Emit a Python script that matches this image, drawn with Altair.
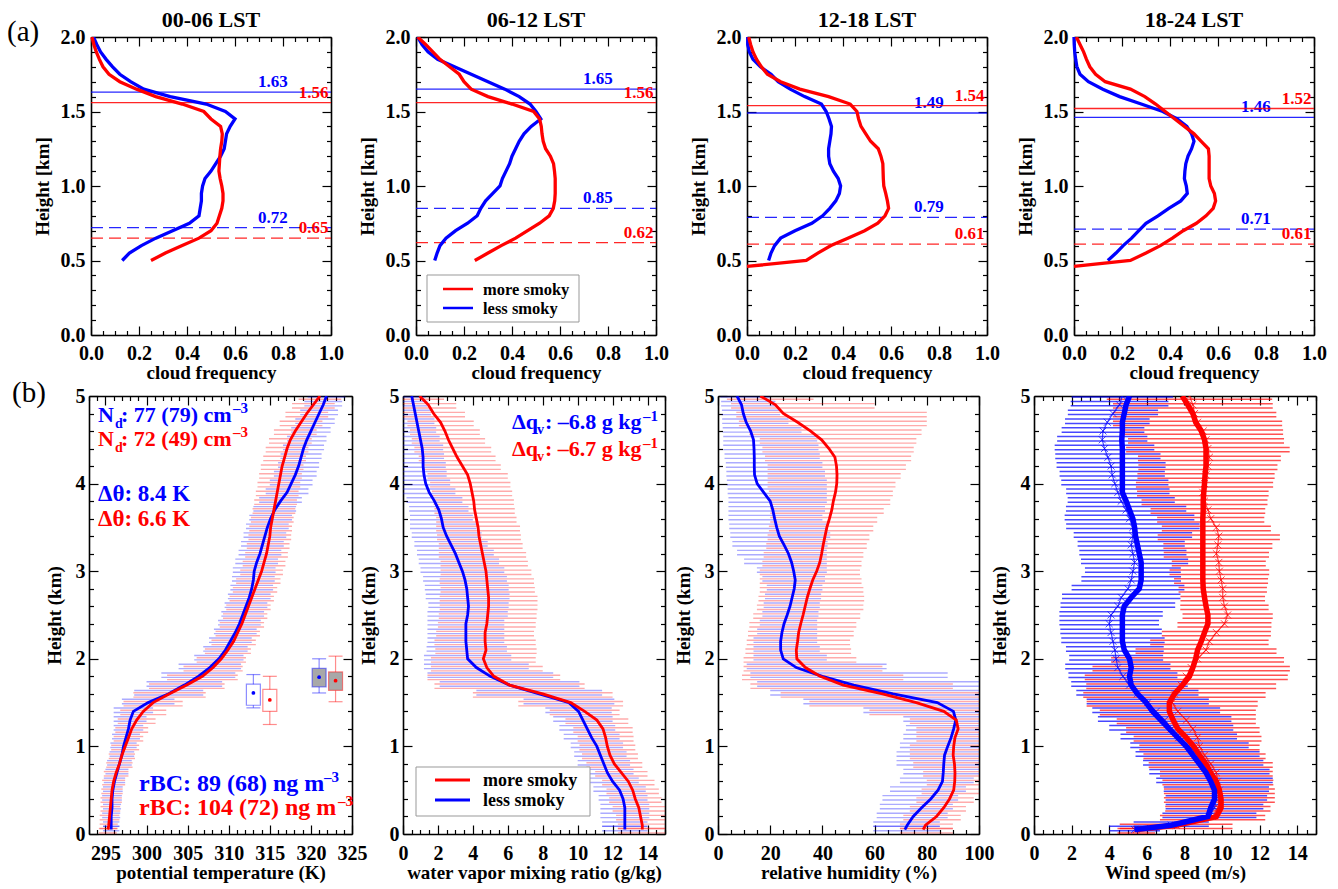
import altair as alt
import pandas as pd

SERIF = "Liberation Serif"
RED = "#ff0000"
BLUE = "#0000ff"
SERIES = ["more smoky", "less smoky"]
ONE = pd.DataFrame({"k": [0]})

# ---------------- (a) cloud-frequency profiles ----------------
LST = ["00-06 LST", "06-12 LST", "12-18 LST", "18-24 LST"]
CF_XDOM = [0.0, 1.0]
CF_YDOM = [0.0, 2.0]
CF_H = [0.50, 0.55, 0.60, 0.65, 0.70, 0.75, 0.80, 0.85, 0.90, 0.95, 1.00,
        1.05, 1.10, 1.15, 1.20, 1.25, 1.30, 1.35, 1.40, 1.45, 1.50,
        1.55, 1.60, 1.65, 1.70, 1.75, 1.80, 1.85, 1.90, 1.95, 2.00]
CF_FOOT_H = 0.46
CF_MORE = [
    [0.25, 0.31, 0.38, 0.45, 0.50, 0.525, 0.535, 0.545, 0.55, 0.55, 0.545,
     0.538, 0.533, 0.535, 0.537, 0.54, 0.545, 0.547, 0.54, 0.50, 0.47,
     0.38, 0.27, 0.19, 0.12, 0.075, 0.05, 0.035, 0.022, 0.012, 0.004],
    [0.245, 0.30, 0.355, 0.415, 0.465, 0.515, 0.555, 0.572, 0.578, 0.58, 0.58,
     0.58, 0.577, 0.573, 0.56, 0.54, 0.53, 0.525, 0.522, 0.515, 0.49,
     0.40, 0.30, 0.23, 0.20, 0.18, 0.14, 0.10, 0.07, 0.04, 0.007],
    [0.0,
     0.247, 0.295, 0.35, 0.42, 0.49, 0.545, 0.575, 0.59, 0.585, 0.578, 0.57,
     0.568, 0.567, 0.566, 0.558, 0.547, 0.515, 0.495, 0.475, 0.465, 0.458,
     0.43, 0.34, 0.22, 0.14, 0.085, 0.06, 0.04, 0.025, 0.015, 0.007],
    [0.0,
     0.235, 0.30, 0.36, 0.41, 0.455, 0.51, 0.55, 0.58, 0.59, 0.585, 0.57,
     0.563, 0.563, 0.563, 0.563, 0.56, 0.53, 0.50, 0.46, 0.42, 0.38,
     0.34, 0.295, 0.235, 0.13, 0.09, 0.066, 0.052, 0.04, 0.025, 0.01],
]
CF_LESS = [
    [0.13, 0.16, 0.21, 0.27, 0.34, 0.41, 0.45, 0.455, 0.46, 0.46, 0.465,
     0.475, 0.50, 0.52, 0.54, 0.555, 0.56, 0.565, 0.58, 0.60, 0.56,
     0.48, 0.33, 0.22, 0.165, 0.12, 0.09, 0.063, 0.04, 0.024, 0.01],
    [0.078, 0.088, 0.10, 0.125, 0.165, 0.215, 0.255, 0.27, 0.29, 0.32, 0.35,
     0.36, 0.375, 0.39, 0.40, 0.415, 0.43, 0.45, 0.48, 0.52, 0.50,
     0.475, 0.43, 0.37, 0.30, 0.23, 0.16, 0.09, 0.05, 0.025, 0.007],
    [0.09, 0.10, 0.115, 0.14, 0.20, 0.27, 0.315, 0.345, 0.37, 0.385, 0.39,
     0.38, 0.36, 0.345, 0.34, 0.34, 0.345, 0.35, 0.352, 0.342, 0.33,
     0.31, 0.24, 0.18, 0.13, 0.10, 0.056, 0.025, 0.01, 0.003, 0.003],
    [0.141, 0.175, 0.205, 0.24, 0.27, 0.30, 0.35, 0.395, 0.445, 0.472, 0.468,
     0.46, 0.462, 0.466, 0.475, 0.49, 0.50, 0.49, 0.47, 0.43, 0.37,
     0.28, 0.19, 0.12, 0.06, 0.025, 0.012, 0.007, 0.003, 0.001, 0.0],
]
TOP_MORE = [1.56, 1.56, 1.54, 1.52]
TOP_LESS = [1.63, 1.65, 1.49, 1.46]
BASE_MORE = [0.65, 0.62, 0.61, 0.61]
BASE_LESS = [0.72, 0.85, 0.79, 0.71]

# ---------------- (b) vertical profiles ----------------
BH = [0.05, 0.1, 0.2, 0.3, 0.4, 0.5, 0.6, 0.7, 0.8, 0.9,
      1.0, 1.1, 1.2, 1.3, 1.4, 1.5, 1.6, 1.7, 1.8, 1.9,
      2.0, 2.1, 2.2, 2.3, 2.4, 2.5, 2.6, 2.7, 2.8, 2.9,
      3.0, 3.1, 3.2, 3.3, 3.4, 3.5, 3.6, 3.7, 3.8, 3.9,
      4.0, 4.1, 4.2, 4.3, 4.4, 4.5, 4.6, 4.7, 4.8, 4.9,
      5.0]
BOT_YDOM = [0.0, 5.0]

TH_XDOM = [293, 325]
TH_LESS = [295.7, 295.7, 295.7, 295.8, 295.8, 295.9, 296.1, 296.4, 296.7, 297.0,
           297.2, 297.5, 297.8, 298.0, 298.4, 300.2, 302.7, 304.6, 306.3, 307.7,
           308.8, 309.6, 310.2, 310.8, 311.3, 311.7, 312.1, 312.5, 312.8, 313.0,
           313.1, 313.4, 313.8, 314.1, 314.4, 314.7, 315.1, 315.6, 316.3, 317.1,
           317.6, 318.1, 318.5, 318.8, 319.1, 319.5, 320.0, 320.5, 321.0, 321.5,
           321.9]
TH_MORE = [295.3, 295.4, 295.5, 295.6, 295.7, 295.8, 296.0, 296.3, 296.7, 297.0,
           297.4, 297.8, 298.2, 298.8, 299.6, 300.8, 302.8, 304.9, 306.8, 308.1,
           309.1, 309.9, 310.6, 311.1, 311.6, 312.0, 312.4, 312.8, 313.2, 313.6,
           314.0, 314.3, 314.6, 314.8, 315.0, 315.1, 315.3, 315.5, 315.7, 315.9,
           316.1, 316.3, 316.5, 316.8, 317.1, 317.5, 318.1, 318.8, 319.5, 320.3,
           321.1]
TH_SD_LESS = [1.0, 1.0, 1.1, 1.1, 1.2, 1.2, 1.3, 1.4, 1.5, 1.5,
              1.6, 1.7, 1.8, 2.0, 2.4, 3.2, 4.2, 4.6, 4.5, 3.8,
              3.0, 2.7, 2.6, 2.6, 2.6, 2.6, 2.6, 2.6, 2.6, 2.6,
              2.6, 2.6, 2.6, 2.6, 2.6, 2.6, 2.6, 2.6, 2.6, 2.6,
              2.6, 2.6, 2.5, 2.5, 2.5, 2.4, 2.4, 2.4, 2.3, 2.3,
              2.3]
TH_SD_MORE = [1.1, 1.1, 1.2, 1.2, 1.3, 1.3, 1.4, 1.5, 1.6, 1.6,
              1.7, 1.8, 2.0, 2.3, 2.8, 3.6, 4.4, 4.6, 4.3, 3.6,
              3.0, 2.8, 2.7, 2.7, 2.7, 2.7, 2.7, 2.7, 2.7, 2.7,
              2.6, 2.6, 2.6, 2.6, 2.6, 2.6, 2.6, 2.6, 2.6, 2.6,
              2.6, 2.6, 2.6, 2.6, 2.6, 2.6, 2.6, 2.6, 2.6, 2.6,
              2.6]

QV_XDOM = [0, 15]
QV_LESS = [12.7, 12.7, 12.7, 12.7, 12.6, 12.4, 12.0, 11.7, 11.5, 11.3,
           11.1, 10.8, 10.55, 10.3, 10.05, 9.5, 7.8, 6.1, 5.0, 4.2,
           3.7, 3.65, 3.6, 3.6, 3.6, 3.7, 3.75, 3.7, 3.65, 3.55,
           3.4, 3.2, 3.0, 2.75, 2.5, 2.3, 2.2, 2.05, 1.8, 1.5,
           1.3, 1.2, 1.15, 1.15, 1.1, 1.0, 0.9, 0.8, 0.7, 0.6,
           0.5]
QV_MORE = [13.7, 13.7, 13.6, 13.5, 13.3, 13.15, 12.9, 12.5, 12.1, 11.85,
           11.7, 11.6, 11.45, 11.1, 10.4, 9.6, 8.0, 6.1, 5.2, 4.8,
           4.6, 4.75, 4.7, 4.7, 4.8, 4.85, 4.9, 4.9, 4.85, 4.8,
           4.75, 4.65, 4.55, 4.45, 4.35, 4.3, 4.2, 4.1, 4.05, 3.95,
           3.85, 3.7, 3.4, 3.1, 2.85, 2.6, 2.4, 2.15, 1.75, 1.45,
           0.95]
QV_SD_LESS = [1.3, 1.3, 1.4, 1.4, 1.4, 1.5, 1.5, 1.5, 1.5, 1.5,
              1.5, 1.6, 1.6, 1.7, 1.9, 2.6, 3.6, 4.0, 3.6, 3.0,
              2.5, 2.3, 2.2, 2.2, 2.2, 2.3, 2.3, 2.4, 2.4, 2.4,
              2.4, 2.3, 2.2, 2.1, 2.0, 1.9, 1.8, 1.7, 1.6, 1.5,
              1.4, 1.3, 1.3, 1.2, 1.2, 1.1, 1.0, 1.0, 0.9, 0.8,
              0.8]
QV_SD_MORE = [1.4, 1.4, 1.4, 1.5, 1.5, 1.5, 1.5, 1.5, 1.6, 1.6,
              1.6, 1.6, 1.7, 1.8, 2.0, 3.0, 4.0, 4.3, 3.8, 3.2,
              3.0, 2.9, 2.9, 2.8, 2.8, 2.8, 2.8, 2.8, 2.7, 2.7,
              2.6, 2.5, 2.5, 2.4, 2.4, 2.4, 2.3, 2.3, 2.3, 2.3,
              2.3, 2.3, 2.2, 2.2, 2.2, 2.1, 2.0, 1.9, 1.8, 1.6,
              1.4]

RH_XDOM = [0, 100]
RH_LESS = [71.6, 72.5, 74.8, 78.0, 81.5, 84.3, 86.0, 86.3, 86.5, 86.8,
           88.0, 89.3, 90.3, 91.1, 90.2, 84.0, 67.1, 52.0, 40.0, 30.0,
           25.0, 24.0, 24.0, 24.5, 25.3, 26.5, 27.6, 28.4, 29.2, 29.6,
           29.0, 28.2, 27.0, 25.3, 23.5, 22.5, 21.7, 21.0, 20.0, 17.5,
           15.0, 14.0, 13.9, 13.9, 13.8, 13.6, 12.5, 10.8, 9.7, 9.0,
           7.3]
RH_MORE = [78.6, 79.5, 83.7, 86.5, 88.7, 90.3, 90.7, 90.8, 90.6, 90.1,
           90.3, 90.8, 92.0, 91.3, 86.5, 76.0, 63.0, 48.0, 39.1, 33.5,
           30.2, 30.0, 30.5, 30.9, 31.7, 32.6, 33.4, 34.2, 35.2, 36.3,
           37.8, 39.0, 39.7, 40.3, 41.0, 41.7, 42.7, 43.6, 44.2, 45.0,
           45.5, 45.6, 45.4, 44.8, 42.5, 39.7, 35.5, 30.5, 25.0, 22.0,
           16.2]
RH_LO_LESS = [59.5, 59.5, 60.8, 62.0, 63.0, 65.9, 69.7, 71.0, 68.4, 68.4,
              69.7, 71.0, 72.0, 71.0, 55.7, 32.7, 20.0, 15.0, 12.4, 11.0,
              13.6, 13.6, 13.6, 15.0, 16.0, 17.0, 17.5, 18.0, 18.7, 17.0,
              14.9, 10.0, 7.3, 5.5, 4.7, 4.3, 4.0, 4.0, 4.0, 3.7,
              3.4, 3.2, 3.0, 2.5, 2.0, 2.0, 1.8, 1.6, 1.5, 1.2,
              0.9]
RH_HI_LESS = [85.0, 85.0, 88.0, 90.0, 92.0, 95.0, 98.0, 100.0, 100.0, 100.0,
              100.0, 100.0, 100.0, 100.0, 100.0, 100.0, 100.0, 100.0, 88.0, 64.6,
              41.7, 39.0, 38.0, 38.0, 38.0, 38.5, 39.0, 39.5, 40.0, 41.0,
              41.7, 41.7, 41.7, 42.0, 43.0, 42.0, 40.0, 41.0, 41.7, 41.7,
              41.7, 41.0, 40.0, 39.0, 38.5, 38.0, 32.0, 27.0, 23.8, 22.0,
              20.0]
RH_LO_MORE = [69.7, 69.7, 71.0, 73.5, 76.0, 78.0, 80.0, 78.6, 74.8, 73.5,
              73.5, 76.0, 76.0, 73.5, 58.0, 35.0, 24.0, 12.4, 9.2, 9.8,
              9.8, 10.5, 11.0, 11.5, 12.0, 13.5, 14.9, 15.5, 16.0, 16.0,
              16.0, 17.0, 17.5, 18.5, 19.0, 19.5, 20.0, 20.0, 20.0, 19.5,
              19.0, 19.0, 19.0, 18.0, 17.0, 16.0, 12.0, 8.0, 7.0, 5.0,
              3.4]
RH_HI_MORE = [90.0, 90.0, 93.0, 95.0, 98.0, 100.0, 100.0, 100.0, 100.0, 100.0,
              100.0, 100.0, 100.0, 100.0, 100.0, 100.0, 100.0, 90.0, 71.0, 63.0,
              53.0, 51.0, 50.6, 52.0, 53.0, 54.5, 55.7, 56.0, 55.7, 55.0,
              54.4, 55.0, 55.7, 57.0, 58.0, 59.5, 61.0, 63.5, 66.0, 67.0,
              68.0, 70.0, 72.0, 74.0, 75.0, 76.0, 78.0, 80.0, 80.0, 60.0,
              36.6]

WS_XDOM = [0, 15]
WS_LESS = [5.35, 7.3, 9.25, 9.4, 9.6, 9.6, 9.4, 9.15, 8.8, 8.45,
           8.1, 7.65, 7.2, 6.75, 6.3, 5.97, 5.5, 5.17, 5.08, 5.17,
           5.08, 4.8, 4.7, 4.7, 4.7, 4.7, 4.8, 5.17, 5.6, 5.7,
           5.7, 5.7, 5.6, 5.5, 5.4, 5.35, 5.26, 5.08, 4.9, 4.7,
           4.7, 4.7, 4.7, 4.7, 4.7, 4.67, 4.7, 4.7, 4.8, 4.9,
           5.08]
WS_MEAN_LESS = [5.35, 7.3, 9.33, 9.6, 9.7, 9.7, 9.6, 9.33, 9.0, 8.7,
                8.27, 7.7, 7.3, 6.95, 6.5, 6.05, 5.5, 5.08, 4.73, 4.46,
                4.37, 4.3, 4.2, 4.1, 4.0, 4.1, 4.46, 4.64, 5.0, 5.17,
                5.26, 5.35, 5.26, 5.17, 5.26, 5.26, 5.08, 4.9, 4.64, 4.46,
                4.3, 4.16, 4.1, 3.93, 3.75, 3.63, 3.67, 3.9, 4.2, 4.55,
                4.7]
WS_SD_LESS = [1.35, 2.0, 2.5, 2.6, 2.7, 2.8, 3.1, 3.2, 3.2, 3.3,
              3.15, 3.1, 3.3, 3.55, 3.4, 3.25, 3.25, 3.1, 2.9, 2.8,
              2.5, 2.6, 2.75, 2.7, 2.65, 2.75, 3.05, 3.15, 3.0, 2.65,
              2.55, 2.85, 2.85, 2.85, 3.15, 3.55, 3.45, 3.2, 2.85, 2.75,
              2.85, 2.8, 2.9, 2.8, 2.65, 2.4, 2.2, 2.25, 2.4, 2.6,
              2.7]
WS_MORE = [5.44, 7.56, 9.7, 9.95, 9.95, 9.86, 9.7, 9.4, 9.15, 8.8,
           8.5, 8.1, 7.65, 7.4, 7.2, 7.2, 7.47, 7.9, 8.27, 8.45,
           8.6, 8.7, 8.9, 9.07, 9.25, 9.25, 9.15, 9.07, 9.0, 8.98,
           8.98, 8.98, 8.98, 8.98, 8.98, 8.98, 8.98, 9.0, 9.0, 9.03,
           9.07, 9.1, 9.15, 9.15, 9.15, 9.07, 8.9, 8.6, 8.45, 8.18,
           7.88]
WS_MEAN_MORE = [5.44, 7.56, 9.5, 9.78, 9.86, 9.86, 9.78, 9.7, 9.4, 9.07,
                8.8, 8.7, 8.45, 8.1, 7.65, 7.35, 7.47, 7.83, 8.1, 8.36,
                8.7, 9.15, 9.33, 9.7, 10.13, 10.3, 10.13, 10.04, 10.04, 9.95,
                9.86, 9.83, 9.7, 9.78, 9.83, 9.7, 9.4, 9.25, 9.07, 8.98,
                9.07, 9.15, 9.25, 9.33, 9.25, 9.15, 9.0, 8.7, 8.54, 8.45,
                8.27]
WS_SD_MORE = [1.0, 3.0, 2.8, 2.8, 2.95, 2.95, 2.95, 3.0, 3.3, 3.25,
              3.2, 3.4, 3.55, 3.7, 4.15, 4.55, 4.85, 5.05, 5.4, 5.25,
              4.6, 3.75, 3.15, 2.9, 2.5, 2.4, 2.35, 2.25, 2.35, 2.5,
              2.65, 2.5, 2.8, 2.9, 3.25, 2.9, 2.85, 3.05, 3.35, 3.5,
              3.65, 3.65, 3.7, 3.8, 4.35, 4.15, 4.25, 4.5, 4.35, 4.25,
              4.4]

# box plots in the potential-temperature panel
BOX_X = [313, 315, 321, 323]
BOX_SER = ["less smoky", "more smoky", "less smoky", "more smoky"]
BOX_LO = [1.44, 1.25, 1.61, 1.51]
BOX_Q1 = [1.47, 1.40, 1.68, 1.64]
BOX_Q3 = [1.71, 1.65, 1.89, 1.85]
BOX_HI = [1.82, 1.80, 2.00, 2.03]
BOX_MEAN = [1.61, 1.53, 1.79, 1.75]
BOX_FILLED = [False, False, True, True]

for arr in [TH_LESS, TH_MORE, TH_SD_LESS, TH_SD_MORE, QV_LESS, QV_MORE, QV_SD_LESS, QV_SD_MORE,
            RH_LESS, RH_MORE, RH_LO_LESS, RH_HI_LESS, RH_LO_MORE, RH_HI_MORE,
            WS_LESS, WS_MEAN_LESS, WS_SD_LESS, WS_MORE, WS_MEAN_MORE, WS_SD_MORE]:
    assert len(arr) == len(BH), len(arr)

# ---------------- layout (grid cells; plot placed inside each cell) ----------------
CELL_W = [304, 305, 306, 282]
COL_GAP = 10
ROW_GAP = 61
TOP_OX = [2, 13, 29, 40]
TOP_W = 240
TOP_H = 298
BOT_W = [263, 262, 261, 282]
BOT_H = 438
BOX_HALF = 0.85
MAJ_TICK = 9
MIN_TICK = 4.5


def tick_vals(lo, hi, step):
    n = int(round((hi - lo) / step))
    return [round(lo + step * k, 6) for k in range(n + 1)]


def split_ticks(lo, hi, minor, major):
    allv = tick_vals(lo, hi, minor)
    maj = [v for v in allv if abs(v / major - round(v / major)) < 1e-6]
    mnr = [v for v in allv if v not in maj]
    return maj, mnr


def axis_main_x(title, values, fmt, lab_pad, title_y):
    return alt.Axis(orient="bottom", title=title, values=values, format=fmt,
                    ticks=False, tickSize=0, grid=False, domain=True,
                    domainColor="black", domainWidth=1.6,
                    labelFont=SERIF, labelFontSize=20, labelFontWeight="bold",
                    labelColor="black", labelBaseline="alphabetic",
                    labelPadding=lab_pad, labelFlush=False, labelOverlap=False,
                    titleFont=SERIF, titleFontSize=19, titleFontWeight="bold",
                    titleColor="black", titleBaseline="alphabetic", titleY=title_y)


def axis_main_y(title, values, fmt, lab_pad, title_x, H, ox):
    return alt.Axis(orient="left", offset=-ox, title=title, values=values, format=fmt,
                    ticks=False, tickSize=0, grid=False, domain=True,
                    domainColor="black", domainWidth=1.6,
                    labelFont=SERIF, labelFontSize=20, labelFontWeight="bold",
                    labelColor="black", labelBaseline="middle",
                    labelPadding=lab_pad, labelFlush=False, labelOverlap=False,
                    titleFont=SERIF, titleFontSize=19, titleFontWeight="bold",
                    titleColor="black", titleAngle=270, titleBaseline="alphabetic",
                    titleAlign="center", titleX=title_x, titleY=H / 2)


def axis_ticks(orient, offset, values, size, domain):
    kw = dict(orient=orient, offset=offset, values=values, labels=False, grid=False,
              title=None, ticks=True, tickColor="black", tickWidth=1.2,
              tickSize=size, domain=domain)
    if domain:
        kw.update(domainColor="black", domainWidth=1.6)
    return alt.Axis(**kw)


def frame(df, xf, yf, xs, ys, CW, OX, W, H, xlim, xminor, xmajor, ylim, yminor, ymajor):
    xmaj, xmin = split_ticks(xlim[0], xlim[1], xminor, xmajor)
    ymaj, ymin = split_ticks(ylim[0], ylim[1], yminor, ymajor)
    ghost = alt.Chart(df).mark_point(opacity=0, size=1)
    out = []
    for k, (xv, yv, size) in enumerate(((xmaj, ymaj, MAJ_TICK), (xmin, ymin, MIN_TICK))):
        dom = (k == 0)
        # inward ticks on the bottom edge and on the left edge
        out.append(ghost.encode(
            x=alt.X(f"{xf}:Q", scale=xs, axis=axis_ticks("top", -H, xv, size, False)),
            y=alt.Y(f"{yf}:Q", scale=ys, axis=axis_ticks("right", OX - CW, yv, size, False))))
        # inward ticks on the top edge and on the right edge (+ frame lines)
        out.append(ghost.encode(
            x=alt.X(f"{xf}:Q", scale=xs, axis=axis_ticks("bottom", -H, xv, size, dom)),
            y=alt.Y(f"{yf}:Q", scale=ys, axis=axis_ticks("left", -(OX + W), yv, size, dom))))
    return out


def ptext(segs, color, bold=True):
    df = pd.DataFrame(segs, columns=["t", "px", "py", "fs"])
    return alt.Chart(df).mark_text(
        font=SERIF, fontWeight="bold" if bold else "normal", align="left",
        baseline="alphabetic", color=color).encode(
        x=alt.X("px:Q", scale=None, axis=None),
        y=alt.Y("py:Q", scale=None, axis=None),
        size=alt.Size("fs:Q", scale=None, legend=None),
        text="t:N")


def anchor(x, y):
    return alt.Chart(ONE).mark_rect(opacity=0).encode(
        x=alt.value(x), x2=alt.value(x + 1), y=alt.value(y), y2=alt.value(y + 1))


def manual_legend(box, line_x, line_y, text_x, text_y, sw, fs):
    out = [alt.Chart(ONE).mark_rect(fill="white", stroke="#999999", strokeWidth=1).encode(
        x=alt.value(box[0]), x2=alt.value(box[1]), y=alt.value(box[2]), y2=alt.value(box[3]))]
    for lab, col, ly in zip(SERIES, (RED, BLUE), line_y):
        out.append(alt.Chart(ONE).mark_rule(color=col, strokeWidth=sw).encode(
            x=alt.value(line_x[0]), x2=alt.value(line_x[1]), y=alt.value(ly)))
    out.append(ptext([(SERIES[0], text_x, text_y[0], fs),
                      (SERIES[1], text_x, text_y[1], fs)], "black"))
    return out


# ---------------- top row ----------------
def top_panel(i):
    OX, W, CW, H = TOP_OX[i], TOP_W, CELL_W[i], TOP_H
    xs = alt.Scale(domain=CF_XDOM, range=[OX, OX + W], nice=False, zero=False)
    ys = alt.Scale(domain=CF_YDOM, nice=False, zero=False)
    layers = []
    for v, col, dashed, xp in ((TOP_LESS[i], BLUE, False, 0.82), (TOP_MORE[i], RED, False, 0.99),
                               (BASE_LESS[i], BLUE, True, 0.82), (BASE_MORE[i], RED, True, 0.99)):
        d = pd.DataFrame({"v": [v], "x0": [CF_XDOM[0]], "x1": [CF_XDOM[1]],
                          "xp": [xp], "lab": [f"{v:.2f}"]})
        kw = dict(color=col, strokeWidth=1.3, opacity=0.85)
        if dashed:
            kw["strokeDash"] = [12, 6]
        layers.append(alt.Chart(d).mark_rule(**kw).encode(
            x=alt.X("x0:Q", scale=xs, axis=None), x2="x1:Q",
            y=alt.Y("v:Q", scale=ys, axis=None)))
        layers.append(alt.Chart(d).mark_text(
            font=SERIF, fontSize=17, fontWeight="bold", color=col, align="right",
            baseline="alphabetic", dy=-5).encode(
            x=alt.X("xp:Q", scale=xs, axis=None),
            y=alt.Y("v:Q", scale=ys, axis=None), text="lab:N"))
    first_df = None
    for k, (vals, col) in enumerate(((CF_LESS[i], BLUE), (CF_MORE[i], RED))):
        hs = CF_H if len(vals) == len(CF_H) else [CF_FOOT_H] + CF_H
        assert len(hs) == len(vals)
        d = pd.DataFrame({"h": hs, "f": vals})
        if k == 0:
            first_df = d
            ax_x = axis_main_x("cloud frequency", tick_vals(0, 1, 0.2), ".1f", 24, 43)
            ax_y = axis_main_y("Height [km]", tick_vals(0, 2, 0.5), ".1f", 6, -43, H, OX)
        else:
            ax_x, ax_y = None, None
        layers.append(alt.Chart(d).mark_line(color=col, strokeWidth=3.3, clip=True).encode(
            x=alt.X("f:Q", scale=xs, axis=ax_x), y=alt.Y("h:Q", scale=ys, axis=ax_y),
            order=alt.Order("h:Q")))
    layers.append(alt.Chart(ONE).mark_text(
        font=SERIF, fontSize=22, fontWeight="bold", align="center",
        baseline="alphabetic", color="black").encode(
        x=alt.value(OX + W / 2), y=alt.value(-10), text=alt.value(LST[i])))
    if i == 1:
        layers += manual_legend((OX + 11, OX + 163, 238, 285), (OX + 27, OX + 57), (252, 271),
                                OX + 67, (258, 277), 2.5, 16.5)
    if i == 0:
        layers.append(ptext([("(a)", OX - 84, 4, 29)], "black", bold=False))
        layers.append(anchor(-89, -37))
    layers += frame(first_df, "f", "h", xs, ys, CW, OX, W, H,
                    CF_XDOM, 0.05, 0.2, CF_YDOM, 0.1, 0.5)
    return alt.layer(*layers).resolve_axis(x="independent", y="independent").properties(
        width=CW, height=H)


# ---------------- bottom row helpers ----------------
def sym(mean, sd):
    return ([round(m - s, 3) for m, s in zip(mean, sd)],
            [round(m + s, 3) for m, s in zip(mean, sd)])


def bars(lo, hi, col, op, sw, offs, xs, ys, axes=None):
    df = pd.DataFrame({"h": BH, "lo": lo, "hi": hi})
    out = []
    for k, off in enumerate(offs):
        ax = axes if (axes is not None and k == 0) else (None, None)
        out.append(alt.Chart(df).mark_rule(
            color=col, opacity=op, strokeWidth=sw, yOffset=off, clip=True).encode(
            x=alt.X("lo:Q", scale=xs, axis=ax[0]), x2="hi:Q",
            y=alt.Y("h:Q", scale=ys, axis=ax[1])))
    return out


def prof(vals, col, sw, xs, ys, op=1.0):
    df = pd.DataFrame({"h": BH, "v": vals})
    return alt.Chart(df).mark_line(color=col, strokeWidth=sw, opacity=op, clip=True).encode(
        x=alt.X("v:Q", scale=xs, axis=None), y=alt.Y("h:Q", scale=ys, axis=None),
        order=alt.Order("h:Q"))


def bot_scales(j, xdom):
    xs = alt.Scale(domain=xdom, range=[0, BOT_W[j]], nice=False, zero=False, clamp=True)
    ys = alt.Scale(domain=BOT_YDOM, nice=False, zero=False)
    return xs, ys


def bot_axes(xtitle, xmaj):
    return (axis_main_x(xtitle, xmaj, "d", 25, 44),
            axis_main_y("Height (km)", tick_vals(0, 5, 1), "d", 4, -29, BOT_H, 0))


def bot_finish(j, layers, xs, ys, xdom, xstep_minor, xstep_major):
    gdf = pd.DataFrame({"h": BH, "v": [xdom[0]] * len(BH)})
    layers = layers + frame(gdf, "v", "h", xs, ys, CELL_W[j], 0, BOT_W[j], BOT_H,
                            xdom, xstep_minor, xstep_major, BOT_YDOM, 0.2, 1)
    return alt.layer(*layers).resolve_axis(x="independent", y="independent").properties(
        width=CELL_W[j], height=BOT_H)


def box_layers(xs, ys):
    out = []
    for bx, s, lo, q1, q3, hi, mn, filled in zip(BOX_X, BOX_SER, BOX_LO, BOX_Q1, BOX_Q3,
                                                 BOX_HI, BOX_MEAN, BOX_FILLED):
        col = BLUE if s == "less smoky" else RED
        d = pd.DataFrame({"x": [bx], "xl": [bx - BOX_HALF], "xr": [bx + BOX_HALF],
                          "lo": [lo], "q1": [q1], "q3": [q3], "hi": [hi], "m": [mn]})
        c = alt.Chart(d)

        def X(f):
            return alt.X(f"{f}:Q", scale=xs, axis=None)

        def Y(f):
            return alt.Y(f"{f}:Q", scale=ys, axis=None)

        rk = dict(color=col, opacity=0.45, strokeWidth=1.2)
        out.append(c.mark_rule(**rk).encode(x=X("x"), y=Y("lo"), y2="q1:Q"))
        out.append(c.mark_rule(**rk).encode(x=X("x"), y=Y("q3"), y2="hi:Q"))
        out.append(c.mark_rule(**rk).encode(x=X("xl"), x2="xr:Q", y=Y("lo")))
        out.append(c.mark_rule(**rk).encode(x=X("xl"), x2="xr:Q", y=Y("hi")))
        out.append(c.mark_rect(stroke=col, strokeOpacity=0.45, strokeWidth=1.2,
                               fill="#a8a8a8", fillOpacity=1.0 if filled else 0.0).encode(
            x=X("xl"), x2="xr:Q", y=Y("q1"), y2="q3:Q"))
        out.append(c.mark_point(filled=True, color=col, size=14, opacity=1).encode(
            x=X("x"), y=Y("m")))
    return out


B_OFF = (-3.3, 1.1)
R_OFF = (-1.1, 3.3)


def panel_b1():
    j = 0
    xs, ys = bot_scales(j, TH_XDOM)
    lo_l, hi_l = sym(TH_LESS, TH_SD_LESS)
    lo_m, hi_m = sym(TH_MORE, TH_SD_MORE)
    layers = bars(lo_l, hi_l, BLUE, 0.33, 1.4, B_OFF, xs, ys,
                  axes=bot_axes("potential temperature (K)", tick_vals(295, 325, 5)))
    layers += bars(lo_m, hi_m, RED, 0.33, 1.4, R_OFF, xs, ys)
    layers += box_layers(xs, ys)
    layers += [prof(TH_LESS, BLUE, 2.8, xs, ys), prof(TH_MORE, RED, 2.8, xs, ys)]
    layers.append(ptext([("N", 9, 26, 22), ("d", 26, 32, 14), (": 77 (79) cm", 32, 26, 22),
                         ("\u20133", 144, 17, 15), ("\u0394\u03b8: 8.4 K", 9, 105, 23),
                         ("rBC: 89 (68) ng m", 50, 395, 24), ("\u20133", 235, 386, 15)], BLUE))
    layers.append(ptext([("N", 9, 50, 22), ("d", 26, 56, 14), (": 72 (49) cm", 32, 50, 22),
                         ("\u20133", 144, 41, 15), ("\u0394\u03b8: 6.6 K", 9, 130, 23),
                         ("rBC: 104 (72) ng m", 50, 419, 24), ("\u20133", 249, 410, 15)], RED))
    layers.append(ptext([("(b)", -77, 6, 29)], "black", bold=False))
    return bot_finish(j, layers, xs, ys, TH_XDOM, 1, 5)


def panel_b2():
    j = 1
    xs, ys = bot_scales(j, QV_XDOM)
    lo_l, hi_l = sym(QV_LESS, QV_SD_LESS)
    lo_m, hi_m = sym(QV_MORE, QV_SD_MORE)
    layers = bars(lo_l, hi_l, BLUE, 0.33, 1.4, B_OFF, xs, ys,
                  axes=bot_axes("water vapor mixing ratio (g/kg)", tick_vals(0, 14, 2)))
    layers += bars(lo_m, hi_m, RED, 0.33, 1.4, R_OFF, xs, ys)
    layers += [prof(QV_LESS, BLUE, 2.8, xs, ys), prof(QV_MORE, RED, 2.8, xs, ys)]
    layers += manual_legend((13, 187, 371, 420), (32, 67), (384, 404), 80, (390, 410), 3, 18)
    layers.append(ptext([("\u0394q", 109, 33, 22), ("v", 134, 38, 14),
                         (": \u20136.8 g kg", 142, 33, 22), ("\u20131", 240, 25, 15)], BLUE))
    layers.append(ptext([("\u0394q", 109, 60, 22), ("v", 134, 65, 14),
                         (": \u20136.7 g kg", 142, 60, 22), ("\u20131", 240, 52, 15)], RED))
    return bot_finish(j, layers, xs, ys, QV_XDOM, 0.5, 2)


def panel_b3():
    j = 2
    xs, ys = bot_scales(j, RH_XDOM)
    layers = bars(RH_LO_LESS, RH_HI_LESS, BLUE, 0.33, 1.4, B_OFF, xs, ys,
                  axes=bot_axes("relative humidity (%)", tick_vals(0, 100, 20)))
    layers += bars(RH_LO_MORE, RH_HI_MORE, RED, 0.33, 1.4, R_OFF, xs, ys)
    layers += [prof(RH_LESS, BLUE, 2.8, xs, ys), prof(RH_MORE, RED, 2.8, xs, ys)]
    return bot_finish(j, layers, xs, ys, RH_XDOM, 5, 20)


XSHAPE = "M-1,-1L1,1M-1,1L1,-1"


def panel_b4():
    j = 3
    xs, ys = bot_scales(j, WS_XDOM)
    lo_l, hi_l = sym(WS_MEAN_LESS, WS_SD_LESS)
    lo_m, hi_m = sym(WS_MEAN_MORE, WS_SD_MORE)
    layers = bars(lo_l, hi_l, BLUE, 0.72, 1.5, B_OFF, xs, ys,
                  axes=bot_axes("Wind speed (m/s)", tick_vals(0, 14, 2)))
    layers += bars(lo_m, hi_m, RED, 0.68, 1.5, R_OFF, xs, ys)
    for mean, col in ((WS_MEAN_LESS, BLUE), (WS_MEAN_MORE, RED)):
        layers.append(prof(mean, col, 1.2, xs, ys, op=0.7))
        layers.append(alt.Chart(pd.DataFrame({"h": BH, "v": mean})).mark_point(
            shape=XSHAPE, filled=False, size=50, strokeWidth=1.0, color=col,
            opacity=0.7, clip=True).encode(
            x=alt.X("v:Q", scale=xs, axis=None), y=alt.Y("h:Q", scale=ys, axis=None)))
    layers += [prof(WS_MORE, RED, 5.5, xs, ys), prof(WS_LESS, BLUE, 5.5, xs, ys)]
    layers.append(anchor(1336 - 1034, 887 - 396))
    return bot_finish(j, layers, xs, ys, WS_XDOM, 0.5, 2)


panels = [top_panel(i) for i in range(4)] + [panel_b1(), panel_b2(), panel_b3(), panel_b4()]

chart = alt.concat(*panels, columns=4, spacing={"row": ROW_GAP, "column": COL_GAP},
                   bounds="flush")
chart = chart.properties(padding=0, background="white").configure_view(strokeWidth=0)

chart.save("out.html", embed_options={"renderer": "svg", "actions": False})
